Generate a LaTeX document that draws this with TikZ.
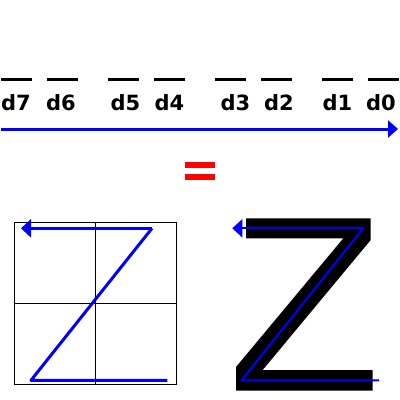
\documentclass[tikz,border=0pt]{standalone}
\usepackage{fontspec}
\setmainfont{DejaVu Sans}
\usetikzlibrary{arrows.meta}
\begin{document}
\begin{tikzpicture}[x=1pt,y=-1pt,
  dashbar/.style={line width=3pt},
  lbl/.style={anchor=base,inner sep=0pt,font=\fontsize{21}{21}\selectfont\bfseries},
  bluearrow/.style={blue,line width=3pt,-{Triangle[length=10pt,width=17pt]}},
  zpath/.style={blue,line width=3pt,line join=round},
  zpaththin/.style={blue,line width=2pt,line join=round}]
\useasboundingbox (0,0) rectangle (400,400);
% bit dashes
\foreach \a/\b in {1/32,47/78,108/139,154/185,215/246,261/292,322/353,368/399}
  \draw[dashbar] (\a,79) -- (\b,79);
% labels
\node[lbl] (d7) at (16,110) {d7};
\node[lbl] (d6) at (61,110) {d6};
\node[lbl] (d5) at (125.5,110) {d5};
\node[lbl] (d4) at (169.5,110) {d4};
\node[lbl] (d3) at (235.5,110) {d3};
\node[lbl] (d2) at (279,110) {d2};
\node[lbl] (d1) at (337.5,110) {d1};
\node[lbl] (d0) at (381,110) {d0};
% order arrow
\coordinate (as) at (1,129);
\coordinate (ae) at (398,129);
\draw[bluearrow] (as) -- (ae);
% equals sign
\fill[red] (185,162) rectangle (215,167.7);
\fill[red] (185,174) rectangle (215,180);
% left grid
\draw[line width=1pt] (14.3,222.3) rectangle (176.3,384);
\draw[line width=1pt] (95.7,222.3) -- (95.7,384);
\draw[line width=1pt] (14.3,303.3) -- (176.3,303.3);
% left blue Z
\coordinate (lz1) at (167.3,380.3);
\coordinate (lz2) at (31,380.3);
\coordinate (lz3) at (152,228.3);
\coordinate (lz4) at (21,228.3);
\draw[zpath] (lz1) -- (lz2) -- (lz3);
\draw[zpath,-{Triangle[length=10pt,width=18pt]}] (lz3) -- (lz4);
% right black Z
\fill (246,218.3) -- (370.7,218.3) -- (370.7,240) -- (262.7,370) -- (372.7,370)
  -- (372.7,390.7) -- (236,390.7) -- (236,367) -- (343.3,238.3) -- (246,238.3) -- cycle;
% right blue Z
\coordinate (rz1) at (379,380.3);
\coordinate (rz2) at (241.7,380.3);
\coordinate (rz3) at (363.3,228.3);
\coordinate (rz4) at (232.3,228.3);
\draw[zpaththin] (rz1) -- (rz2) -- (rz3);
\draw[zpaththin,-{Triangle[length=10pt,width=18pt]}] (rz3) -- (rz4);
\end{tikzpicture}
\end{document}
